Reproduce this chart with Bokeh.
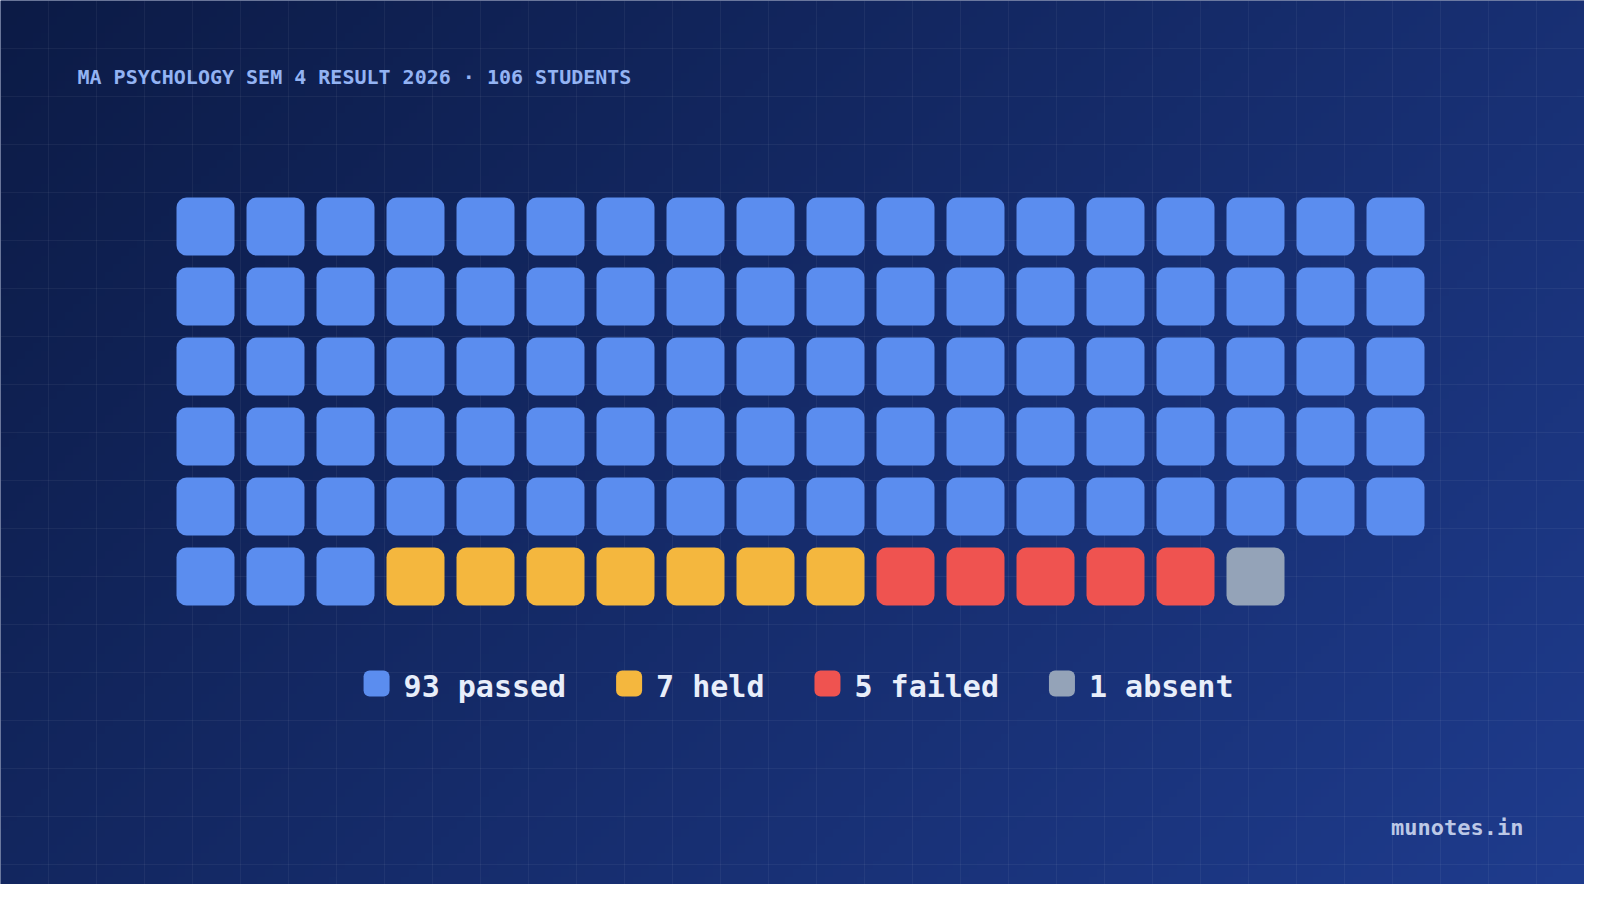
#Waffle chart: MA Psychology Sem 4 result, one square per student

import numpy as np
from bokeh.plotting import figure
from bokeh.models import Range1d, FixedTicker
from bokeh.core.properties import value
from bokeh.embed import file_html
from bokeh.resources import INLINE


# data

categories = ["passed", "held", "failed", "absent"]
counts = [93, 7, 5, 1]
colors = ["#5B8DEF", "#F4B73E", "#EF5350", "#94A3B8"]

title_text = "MA PSYCHOLOGY SEM 4 RESULT 2026 \u00b7 106 STUDENTS"
source_text = "munotes.in"


# layout (page pixels, y grows downwards)

W, H = 1600, 900
n_cols = 18
cell = 58
pitch = 70
grid_left, grid_top = 176, 197
text_dy = 9   # svg text sits a little low, pull it up

p = figure(width=1584, height=884,
           x_range=Range1d(0, 1584), y_range=Range1d(884, 0),
           toolbar_location=None, output_backend="svg", min_border=0)
p.axis.visible = False
p.outline_line_color = None
p.background_fill_color = "#152A6B"
p.border_fill_color = "#152A6B"

# diagonal background gradient
step = 8
gx = np.arange(0, W, step) + step / 2
gy = np.arange(0, H, step) + step / 2
XX, YY = np.meshgrid(gx, gy)
t = (XX + YY) / (W + H)
c0 = np.array([12, 27, 70])
c1 = np.array([31, 60, 142])
img = np.empty(t.shape, dtype=np.uint32)
view = img.view(dtype=np.uint8).reshape(t.shape + (4,))
for k in range(3):
    view[:, :, k] = (c0[k] + (c1[k] - c0[k]) * t).astype(np.uint8)
view[:, :, 3] = 255
bg = p.image_rgba(image=[img], x=0, y=0, dw=W, dh=H)
bg.level = "image"

# faint 48px grid
p.xgrid.ticker = FixedTicker(ticks=list(range(0, W + 1, 48)))
p.ygrid.ticker = FixedTicker(ticks=list(range(0, H + 1, 48)))
p.grid.grid_line_color = "white"
p.grid.grid_line_alpha = 0.05
p.grid.grid_line_width = 1

# waffle cells, filled row by row
cell_colors = []
for c, n in zip(colors, counts):
    cell_colors += [c] * n
idx = np.arange(sum(counts))
left = grid_left + (idx % n_cols) * pitch
top = grid_top + (idx // n_cols) * pitch
p.quad(left=left, right=left + cell, top=top, bottom=top + cell,
       fill_color=cell_colors, line_color=None, border_radius=10)

# legend
font = value("DejaVu Sans Mono")
adv = 0.602 * 30
sq, sq_gap, item_gap = 26, 14, 50
labels = [f"{n} {c}" for n, c in zip(counts, categories)]
widths = [sq + sq_gap + len(s) * adv for s in labels]
x = W / 2 - (sum(widths) + item_gap * (len(labels) - 1)) / 2
sq_x, txt_x = [], []
for w in widths:
    sq_x.append(x)
    txt_x.append(x + sq + sq_gap)
    x += w + item_gap
sq_x = np.array(sq_x)
p.quad(left=sq_x - 2, right=sq_x - 2 + sq, top=670, bottom=670 + sq,
       fill_color=colors, line_color=None, border_radius=6)
p.text(x=np.array(txt_x) - 2, y=695 - text_dy, text=labels, text_font=font,
       text_font_size=value("30px"), text_font_style="bold",
       text_color="#E8EEFA", text_baseline="alphabetic")

# title and source
p.text(x=[77], y=[85.5 - text_dy], text=[title_text], text_font=font,
       text_font_size=value("20px"), text_font_style="bold",
       text_color="#93B3F3", text_baseline="alphabetic")
p.text(x=[1523], y=[836 - text_dy], text=[source_text], text_font=font,
       text_font_size=value("22px"), text_font_style="bold",
       text_color="#BCC8E6", text_align="right", text_baseline="alphabetic")

open("out.html", "w").write(file_html(p, INLINE))
